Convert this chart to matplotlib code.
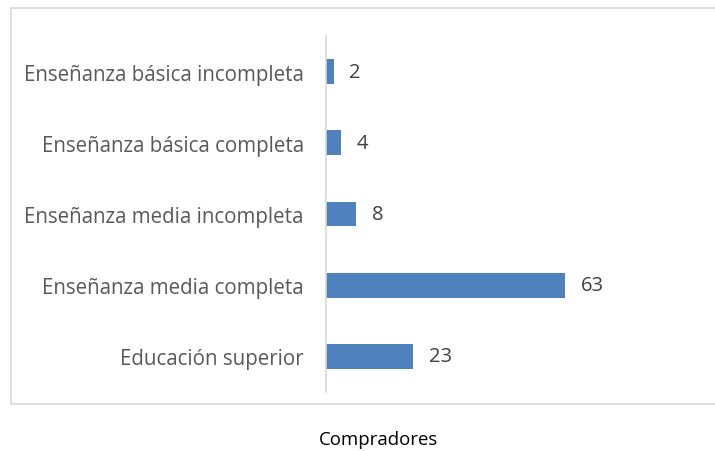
import matplotlib
matplotlib.use("Agg")
import matplotlib.pyplot as plt
from matplotlib.patches import Rectangle

categories = ["Enseñanza básica incompleta", "Enseñanza básica completa",
              "Enseñanza media incompleta", "Enseñanza media completa",
              "Educación superior"]
values = [2, 4, 8, 63, 23]
xlabel = "Compradores"

W, H = 715, 452
fig = plt.figure(figsize=(W/100, H/100), dpi=100)
plt.rcParams['font.family'] = ['Open Sans', 'DejaVu Sans']

# chart frame
fig.patches.append(Rectangle((11/W, 1-405/H), (W-11+5)/W, (405-9)/H,
                             transform=fig.transFigure, fill=False,
                             edgecolor="#D9D9D9", linewidth=1.2))

ax = fig.add_axes([326/W, 1-393/H, 380/W, 356/H])
ypos = list(range(len(categories)))
ax.barh(ypos, values, height=0.35, color="#4F81BD")
ax.set_ylim(len(categories)-0.5, -0.5)
ax.set_xlim(0, 100)
ax.set_yticks(ypos)
ax.set_yticklabels(categories, fontsize=14.8, color="#595959")
ax.tick_params(axis='y', length=0, pad=16)
ax.set_xticks([])
for s in ["top", "right", "bottom"]:
    ax.spines[s].set_visible(False)
ax.spines["left"].set_color("#D9D9D9")
ax.spines["left"].set_linewidth(1.2)
for y, v in zip(ypos, values):
    ax.annotate(str(v), (v, y), xytext=(11, 0), textcoords="offset points",
                va="center", ha="left", fontsize=14.5, color="#404040")

fig.text(378/W, 1-440/H, xlabel, ha="center", va="center", fontsize=13.4, color="black")
fig.text(532/W, 1-1/H, "(%)", ha="center", va="bottom", fontsize=13, color="black")

fig.savefig("out.png", dpi=100)
